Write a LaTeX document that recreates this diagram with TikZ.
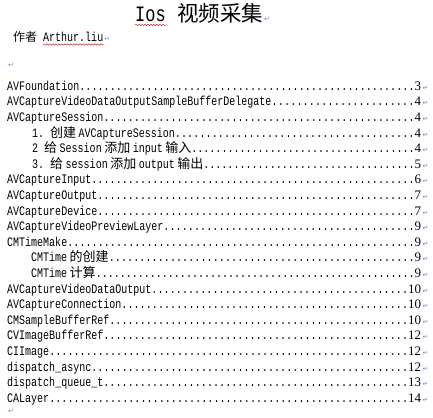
\documentclass[tikz,border=0pt]{standalone}
\usepackage{fontspec}
\setmainfont{Liberation Serif}
\setmonofont[FakeStretch=0.77]{Liberation Mono}
\newfontfamily\cjk{Noto Sans CJK SC}
\newfontfamily\symfont{DejaVu Sans}
\usetikzlibrary{matrix,decorations.pathmorphing}
\definecolor{markblue}{RGB}{88,142,226}
\definecolor{wavered}{RGB}{228,36,36}
\newcommand{\pmark}{{\symfont\fontsize{7}{7}\selectfont\color{markblue}↵}}
\newcommand{\ks}{\hspace{2.5pt}}
\newcommand{\tocdots}{\xleaders\hbox to 6pt{\hss.\hss}\hskip 0pt plus 1filll}
\newcommand{\tocline}[3][0pt]{\hbox to 414pt{\hskip#1\relax #2\tocdots{\rmfamily #3}}\rlap{\hspace{1.5pt}\pmark}}

\begin{document}
\begin{tikzpicture}[x=1pt,y=-1pt,
    tocrow/.style={anchor=west, inner sep=0pt, text height=9pt, text depth=3pt,
      font=\ttfamily\fontsize{13}{13}\selectfont},
    squiggle/.style={draw=wavered, line width=0.5pt, decorate,
      decoration={snake, amplitude=0.7pt, segment length=3pt}}]
      \useasboundingbox (0,0) rectangle (433,417);
      % title line
      \node[anchor=base west, inner sep=0pt, font=\ttfamily\fontsize{22}{22}\selectfont] (ios) at (135,22) {Ios};
      \node[anchor=base west, inner sep=0pt, font=\cjk\fontsize{21.5}{21.5}\selectfont] (caiji) at (177,22) {视频采集\rlap{\hspace{1pt}\pmark}};
      \draw[squiggle] ([yshift=-3pt]ios.base west) -- ([yshift=-3pt]ios.base east);
      % author line
      \node[anchor=base west, inner sep=0pt, font=\cjk\fontsize{12}{12}\selectfont] (zuozhe) at (13,42) {作者};
      \node[anchor=base west, inner sep=0pt, font=\ttfamily\fontsize{13}{13}\selectfont] (author) at (43,42) {Arthur.liu\rlap{\hspace{1pt}\pmark}};
      \draw[squiggle] ([yshift=-2.5pt]author.base west) -- ([yshift=-2.5pt]author.base east);
      \node[anchor=west, inner sep=0pt] (blank) at (8,65) {\pmark};
      % contents
      \node[matrix of nodes, ampersand replacement=\&, anchor=north west, inner sep=0pt,
        row sep=3.6pt, nodes={tocrow}] (toc) at (7,81) {
        |(avf)| \tocline{AVFoundation}{3}\\
        |(delegate)| \tocline{AVCaptureVideoDataOutputSampleBufferDelegate}{4}\\
        |(session)| \tocline{AVCaptureSession}{4}\\
        |(mksession)| \tocline[25pt]{1. {\cjk 创建}\ks AVCaptureSession}{4}\\
        |(addin)| \tocline[25pt]{2 {\cjk 给}\ks Session\ks{\cjk 添加}\ks input\ks{\cjk 输入}}{4}\\
        |(addout)| \tocline[25pt]{3. {\cjk 给}\ks session\ks{\cjk 添加}\ks output\ks{\cjk 输出}}{5}\\
        |(input)| \tocline{AVCaptureInput}{6}\\
        |(output)| \tocline{AVCaptureOutput}{7}\\
        |(device)| \tocline{AVCaptureDevice}{7}\\
        |(preview)| \tocline{AVCaptureVideoPreviewLayer}{9}\\
        |(timemake)| \tocline{CMTimeMake}{9}\\
        |(timenew)| \tocline[24pt]{CMTime\ks{\cjk 的创建}}{9}\\
        |(timecalc)| \tocline[24pt]{CMTime\ks{\cjk 计算}}{9}\\
        |(dataout)| \tocline{AVCaptureVideoDataOutput}{10}\\
        |(conn)| \tocline{AVCaptureConnection}{10}\\
        |(samplebuf)| \tocline{CMSampleBufferRef}{10}\\
        |(imagebuf)| \tocline{CVImageBufferRef}{12}\\
        |(ciimage)| \tocline{CIImage}{12}\\
        |(async)| \tocline{dispatch\_async}{12}\\
        |(queue)| \tocline{dispatch\_queue\_t}{13}\\
        |(calayer)| \tocline{CALayer}{14}\\
      };
      \node[anchor=west, inner sep=0pt] (lastmark) at (8,411) {\pmark};
    \end{tikzpicture}
\end{document}
